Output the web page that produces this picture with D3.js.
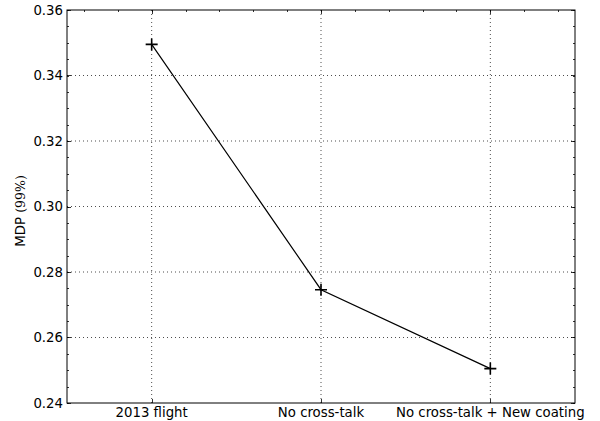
<!DOCTYPE html>
<html><head><meta charset="utf-8">
<script src="https://cdn.jsdelivr.net/npm/d3@7"></script>
<style>body{margin:0;background:#fff}svg{display:block}</style>
</head><body>
<svg id="c" width="600" height="421"></svg>
<script>
const categories = ["2013 flight", "No cross-talk", "No cross-talk + New coating"];
const mdpValues = [0.3495, 0.2746, 0.2505];
const yTicks = [0.24, 0.26, 0.28, 0.30, 0.32, 0.34, 0.36];
const yLabel = "MDP";
const yLabelMath = "(99%)";

const svg = d3.select("#c");
const L = 67, R = 575, T = 10, B = 403;
const x = d3.scaleLinear().domain([-0.5, 2.5]).range([L, R]);
const y = d3.scaleLinear().domain([0.24, 0.36]).range([B, T]);
const font = "DejaVu Sans";

// grid
const g = svg.append("g");
g.selectAll("line.gy").data(yTicks.slice(1, -1)).enter().append("line")
  .attr("x1", L).attr("x2", R).attr("y1", d => y(d)).attr("y2", d => y(d))
  .attr("stroke", "#000").attr("stroke-width", 0.7).attr("stroke-dasharray", "1,3");
g.selectAll("line.gx").data(categories.map((c, i) => i)).enter().append("line")
  .attr("x1", d => x(d)).attr("x2", d => x(d)).attr("y1", T).attr("y2", B)
  .attr("stroke", "#000").attr("stroke-width", 0.7).attr("stroke-dasharray", "1,3");

// ticks
const minorY = d3.range(0.24, 0.3601, 0.005);
const minorX = d3.range(-0.4, 2.41, 0.2);
const tk = svg.append("g").attr("stroke", "#000").attr("stroke-width", 0.8);
minorY.forEach(v => {
  const yy = Math.round(y(v)) + 0.5;
  tk.append("line").attr("x1", L).attr("x2", L + 2).attr("y1", yy).attr("y2", yy);
  tk.append("line").attr("x1", R).attr("x2", R - 2).attr("y1", yy).attr("y2", yy);
});
yTicks.forEach(v => {
  const yy = Math.round(y(v)) + 0.5;
  tk.append("line").attr("x1", L).attr("x2", L + 4).attr("y1", yy).attr("y2", yy);
  tk.append("line").attr("x1", R).attr("x2", R - 4).attr("y1", yy).attr("y2", yy);
});
minorX.forEach(v => {
  const xx = Math.round(x(v)) + 0.5;
  tk.append("line").attr("x1", xx).attr("x2", xx).attr("y1", T).attr("y2", T + 2);
});
categories.forEach((c, i) => {
  const xx = Math.round(x(i)) + 0.5;
  tk.append("line").attr("x1", xx).attr("x2", xx).attr("y1", T).attr("y2", T + 4);
  tk.append("line").attr("x1", xx).attr("x2", xx).attr("y1", B).attr("y2", B - 4);
});

// frame
svg.append("rect").attr("x", L).attr("y", T).attr("width", R - L).attr("height", B - T)
  .attr("fill", "none").attr("stroke", "#000").attr("stroke-width", 1);

// tick labels
svg.selectAll("text.yt").data(yTicks).enter().append("text")
  .attr("x", L - 4).attr("y", d => y(d)).attr("dy", "0.36em")
  .attr("text-anchor", "end").attr("font-family", font).attr("font-size", 13.3)
  .text(d => d.toFixed(2));
svg.selectAll("text.xt").data(categories).enter().append("text")
  .attr("x", (d, i) => x(i)).attr("y", 417)
  .attr("text-anchor", "middle").attr("font-family", font).attr("font-size", 13.3)
  .text(d => d);

// y label
const yl = svg.append("text").attr("transform", `translate(25,211) rotate(-90)`)
  .attr("text-anchor", "middle").attr("font-family", font).attr("font-size", 13.3);
yl.append("tspan").text(yLabel + " ");
yl.append("tspan").attr("font-family", "DejaVu Serif").attr("font-size", 12.5).attr("font-weight", 300).text(yLabelMath);

// line + markers
const line = d3.line().x((d, i) => x(i)).y(d => y(d));
svg.append("path").datum(mdpValues).attr("d", line)
  .attr("fill", "none").attr("stroke", "#000").attr("stroke-width", 1.2);
const m = 6;
svg.selectAll("path.mk").data(mdpValues).enter().append("path")
  .attr("d", (d, i) => `M${x(i) - m},${y(d)}H${x(i) + m}M${x(i)},${y(d) - m}V${y(d) + m}`)
  .attr("stroke", "#000").attr("stroke-width", 1.6).attr("fill", "none");
</script>
</body></html>
